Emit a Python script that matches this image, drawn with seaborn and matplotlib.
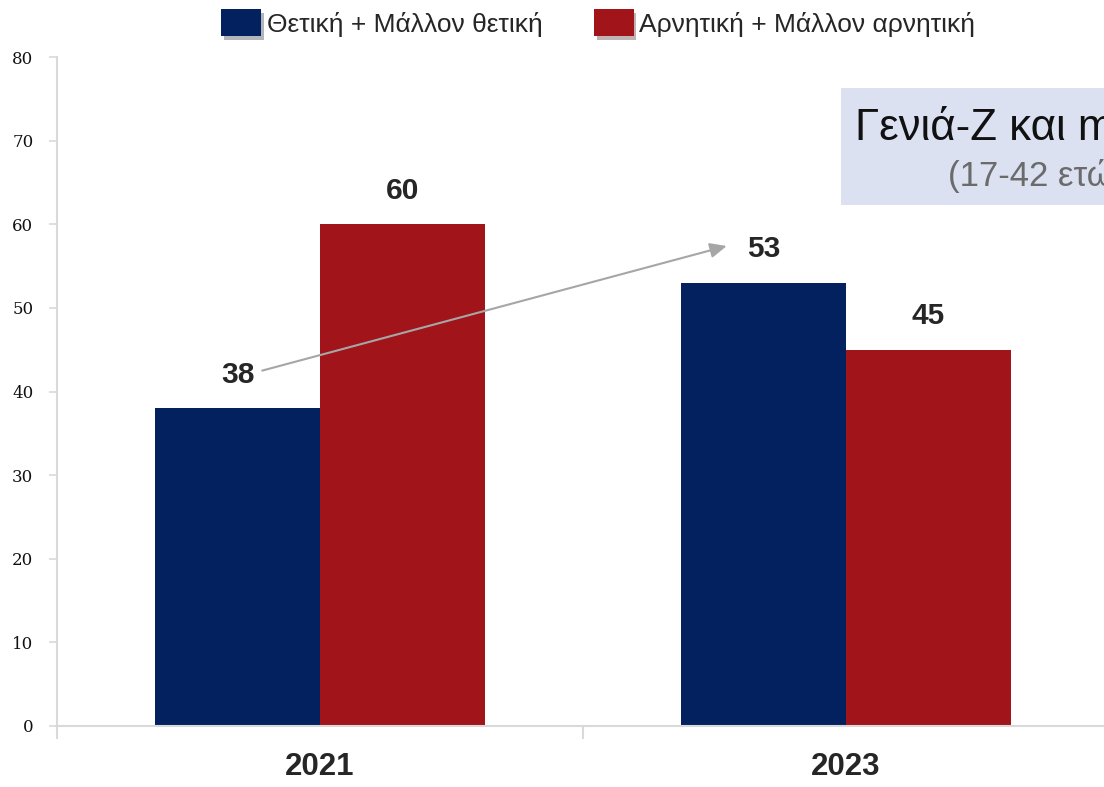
import numpy as np
import pandas as pd
import seaborn as sns
import matplotlib.pyplot as plt
import matplotlib.patheffects as pe
from matplotlib.patches import Rectangle, Patch

years = ["2021", "2023"]
series = ["Θετική + Μάλλον θετική", "Αρνητική + Μάλλον αρνητική"]
positive = [38, 53]
negative = [60, 45]
colors = ["#03215f", "#a1141a"]

df = pd.DataFrame({
    "year": years * 2,
    "series": [series[0]] * 2 + [series[1]] * 2,
    "value": positive + negative,
})

sns.set_style("white")
sans = ["Liberation Sans", "DejaVu Sans"]
plt.rcParams["font.family"] = sans

fig = plt.figure(figsize=(11.04, 7.87), dpi=100)
ax = fig.add_axes([57 / 1104, 61 / 787, 1052 / 1104, 669 / 787])

bar_w = 0.627
sns.barplot(data=df, x="year", y="value", hue="series", order=years, hue_order=series,
            palette=colors, width=bar_w, saturation=1, linewidth=0, ax=ax, legend=False)

ax.set_xlim(-0.5, 1.5)
ax.set_ylim(0, 80)
ax.set_xlabel("")
ax.set_ylabel("")

# value labels above the bars
off = bar_w / 4
for i, yr in enumerate(years):
    for j, vals in enumerate([positive, negative]):
        x = i - off if j == 0 else i + off
        ax.text(x, vals[i] + 4.0, str(vals[i]), ha="center", va="center",
                fontsize=21.5, fontweight="bold", color="#262626")

# arrow from 2021 positive label to 2023 positive label
ax.annotate("", xy=(1 - off - 0.07, positive[1] + 4.4), xytext=(-off + 0.047, positive[0] + 4.5),
            arrowprops=dict(arrowstyle="-|>,head_length=1.0,head_width=0.45", color="#a6a6a6", lw=1.5,
                            shrinkA=0, shrinkB=0))

# axes styling
for s in ["top", "right"]:
    ax.spines[s].set_visible(False)
for s in ["left", "bottom"]:
    ax.spines[s].set_color("#d9d9d9")
    ax.spines[s].set_linewidth(1.5)

ax.set_yticks(range(0, 81, 10))
ax.set_yticklabels([str(v) for v in range(0, 81, 10)], family="DejaVu Serif", fontsize=12,
                   color="#111111")
ax.tick_params(axis="y", direction="out", length=6, width=1.2, color="#d9d9d9", left=True, pad=11)

ax.set_xticks([-0.5, 0.5, 1.5])
ax.set_xticklabels(["", "", ""])
ax.set_xticks([0, 1], minor=True)
ax.set_xticklabels(years, minor=True, fontsize=22.5, fontweight="bold")
ax.tick_params(axis="x", which="major", direction="out", length=9, width=1.5, color="#d9d9d9", bottom=True)
ax.tick_params(axis="x", which="minor", length=0, pad=19)

# legend
handles = [Patch(facecolor=c, edgecolor="none") for c in colors]
leg = fig.legend(handles, series, loc="center", bbox_to_anchor=(0.542, 0.971), ncol=2, frameon=False,
                 handlelength=1.5, handleheight=1.2, handletextpad=0.22, columnspacing=1.95,
                 prop={"family": sans, "size": 19})
for p in leg.get_patches():
    p.set_path_effects([pe.withSimplePatchShadow(offset=(2, -3), alpha=0.3), pe.Normal()])

# annotation box
fig.patches.append(Rectangle((841 / 1104, (787 - 205) / 787), 0.3, 117 / 787,
                             transform=fig.transFigure, facecolor="#dce1f2", edgecolor="none", zorder=0))
fig.text(855 / 1104, 0.837, "Γενιά-Z και millennials", fontsize=31.5, color="#111111",
         va="center", ha="left")
fig.text(948 / 1104, 0.777, "(17-42 ετών)", fontsize=25, color="#6b6b6b",
         va="center", ha="left")

fig.savefig("out.png", dpi=100)
